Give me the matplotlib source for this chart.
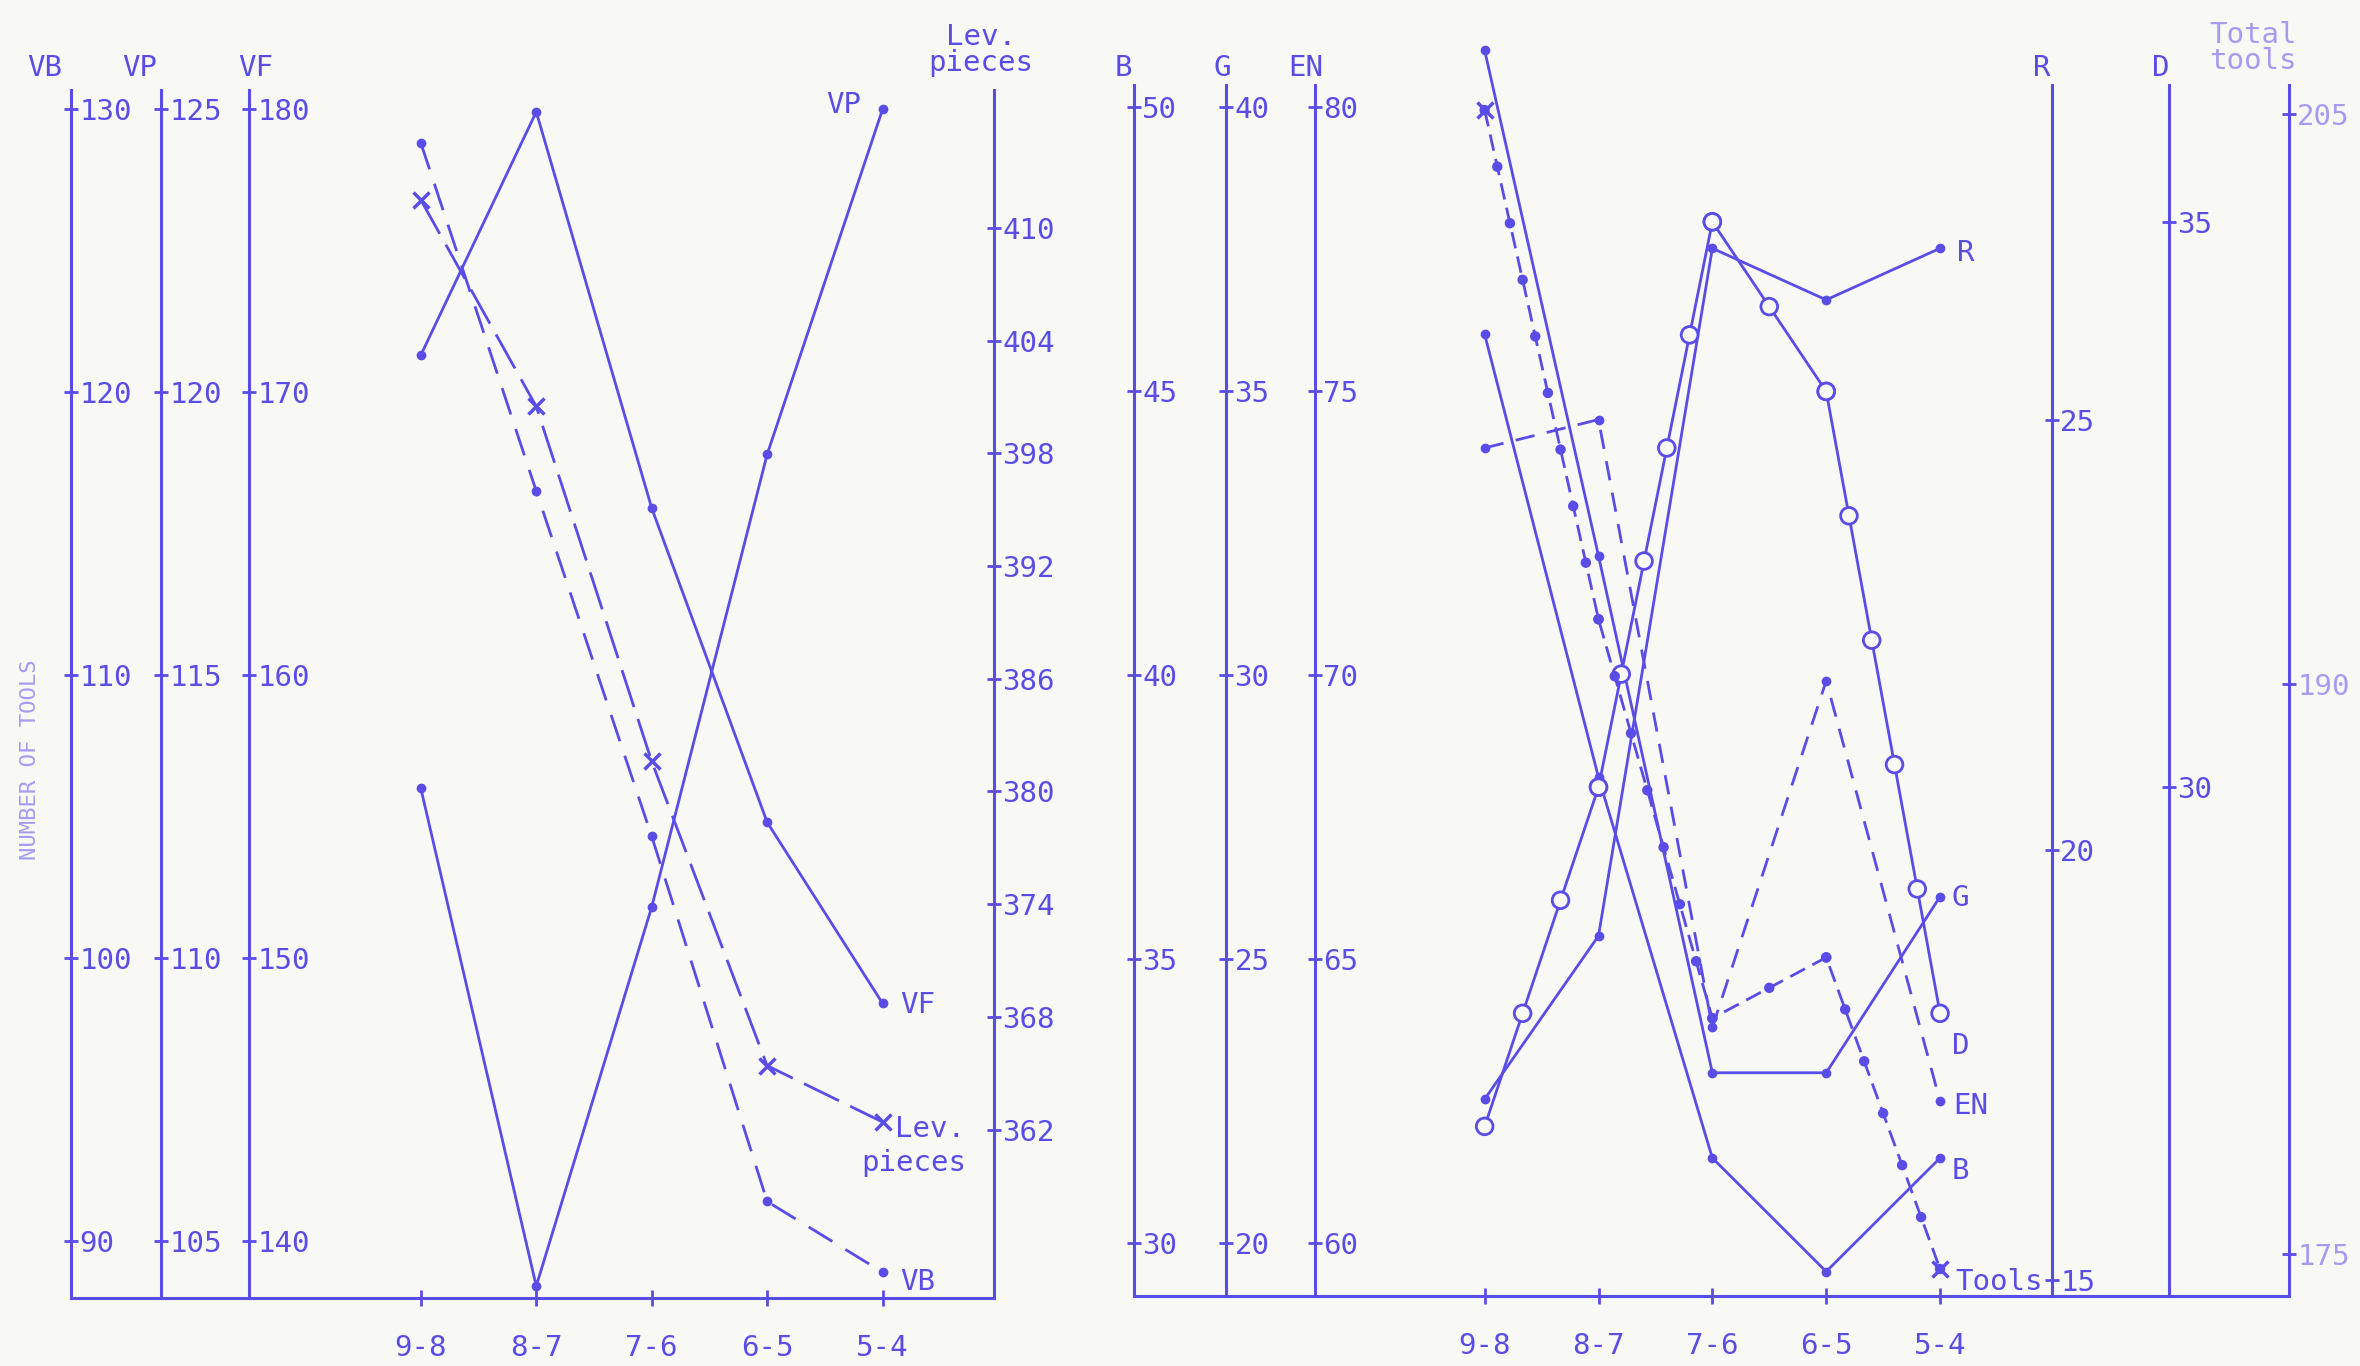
import numpy as np
import matplotlib
matplotlib.use('Agg')
import matplotlib.pyplot as plt
from matplotlib.patheffects import AbstractPathEffect
from matplotlib.path import Path
from matplotlib.transforms import Affine2D
from matplotlib.colors import to_rgba

INK = '#5a4de6'
FAINT = '#a59cf0'
BG = '#f8f8f5'
W, H = 2360, 1366

plt.rcParams['font.family'] = ['DejaVu Sans Mono']

categories = ['9-8', '8-7', '7-6', '6-5', '5-4']

# panneau gauche
vb = [128.8, 116.5, 104.3, 91.4, 88.9]
vp = [113.0, 104.2, 110.9, 118.9, 125.0]
vf = [171.3, 179.9, 165.9, 154.8, 148.4]
lev = [411.5, 400.5, 381.6, 365.4, 362.4]

vb_ticks = [90, 100, 110, 120, 130]
vp_ticks = [105, 110, 115, 120, 125]
vf_ticks = [140, 150, 160, 170, 180]
lev_ticks = [362, 368, 374, 380, 386, 392, 398, 404, 410]

# panneau droit
b = [46.0, 38.2, 31.5, 29.5, 31.5]
g = [41.0, 32.1, 23.0, 23.0, 26.1]
en = [74.0, 74.5, 63.8, 69.9, 62.5]
r = [17.1, 19.0, 27.0, 26.4, 27.0]
d = [27.0, 30.0, 35.0, 33.5, 28.0]
tools = [205.1, 191.7, 181.2, 182.8, 174.6]

b_ticks = [30, 35, 40, 45, 50]
g_ticks = [20, 25, 30, 35, 40]
en_ticks = [60, 65, 70, 75, 80]
r_ticks = [15, 20, 25]
d_ticks = [30, 35]
tools_ticks = [175, 190, 205]

idx = np.arange(len(categories))


class Beads(AbstractPathEffect):
    # petits ronds le long du trait, comme le style de ligne du traceur
    def __init__(self, spacing, size, face):
        super().__init__()
        self.spacing = spacing
        self.size = size
        self.face = to_rgba(face)

    def draw_path(self, renderer, gc, tpath, affine, rgbFace=None):
        renderer.draw_path(gc, tpath, affine, rgbFace)
        pts = affine.transform(tpath.vertices)
        step = renderer.points_to_pixels(self.spacing)
        rad = renderer.points_to_pixels(self.size) / 2
        gc0 = renderer.new_gc()
        gc0.copy_properties(gc)
        gc0.set_dashes(0, None)
        for p0, p1 in zip(pts[:-1], pts[1:]):
            n = max(1, int(round(np.hypot(*(p1 - p0)) / step)))
            for t in np.arange(n + 1) / n:
                xy = p0 + (p1 - p0) * t
                renderer.draw_path(gc0, Path.circle(xy, rad), Affine2D(),
                                   self.face)
        gc0.restore()


fig = plt.figure(figsize=(W / 100, H / 100), dpi=100, facecolor=BG)


def px_rect(l, rr, bot, top):
    return [l / W, 1 - bot / H, (rr - l) / W, (bot - top) / H]


def ftxt(xp, yp, s, **kw):
    kw.setdefault('color', INK)
    kw.setdefault('fontsize', 21)
    kw.setdefault('va', 'center')
    fig.text(xp / W, 1 - yp / H, s, **kw)


def base_axes(rect, xlim):
    ax = fig.add_axes(rect)
    ax.patch.set_visible(False)
    ax.set_xlim(*xlim)
    ax.set_ylim(0, 1)
    ax.set_yticks([])
    for k in ['left', 'right', 'top']:
        ax.spines[k].set_visible(False)
    ax.spines['bottom'].set_color(INK)
    ax.spines['bottom'].set_linewidth(2.2)
    ax.set_xticks(idx)
    ax.set_xticklabels(categories)
    ax.tick_params(axis='x', direction='inout', length=12, width=2,
                   colors=INK, labelsize=21, pad=20)
    return ax


def scale_axis(base, frac, lim, ticks):
    a = base.twinx()
    a.patch.set_visible(False)
    for s in a.spines.values():
        s.set_visible(False)
    a.spines['right'].set_visible(True)
    a.spines['right'].set_position(('axes', frac))
    a.spines['right'].set_color(INK)
    a.spines['right'].set_linewidth(2.2)
    a.set_ylim(*lim)
    a.set_yticks(ticks)
    a.tick_params(axis='y', direction='inout', length=10, width=2,
                  colors=INK, labelsize=21, pad=1)
    return a


# ---- gauche
axl = base_axes(px_rect(71, 994, 1298, 90), (-3.03, 4.965))
a_vb = scale_axis(axl, 0.0, (87.99, 130.67), vb_ticks)
a_vp = scale_axis(axl, 0.0975, (103.99, 125.34), vp_ticks)
a_vf = scale_axis(axl, 0.1929, (137.99, 180.67), vf_ticks)
a_lev = scale_axis(axl, 1.0, (353.03, 417.35), lev_ticks)

dot = dict(marker='o', ms=6, color=INK, lw=2, clip_on=False)
a_vf.plot(idx, vf, **dot)
a_vp.plot(idx, vp, **dot)
a_vb.plot(idx, vb, ls=(0, (10, 5.5)), **dot)
a_lev.plot(idx, lev, color=INK, lw=2, ls=(0, (14, 4.5)), marker='x',
           ms=11, mew=2.5, clip_on=False)

ftxt(45, 68, 'VB', ha='center')
ftxt(140, 68, 'VP', ha='center')
ftxt(256, 68, 'VF', ha='center')
ftxt(981, 50, 'Lev.\npieces', ha='center', linespacing=0.9)
ftxt(826, 105, 'VP', ha='left')
ftxt(900, 1005, 'VF', ha='left')
ftxt(895, 1129, 'Lev.', ha='left')
ftxt(861, 1163, 'pieces', ha='left')
ftxt(900, 1282, 'VB', ha='left')
ftxt(30, 760, 'NUMBER OF TOOLS', ha='center', rotation=90, fontsize=16,
     color=FAINT)

# ---- droite
axr = base_axes(px_rect(1134, 2289, 1296, 85), (-3.08, 7.065))
a_b = scale_axis(axr, 0.0, (29.07, 50.39), b_ticks)
a_g = scale_axis(axr, 0.0797, (19.07, 40.39), g_ticks)
a_en = scale_axis(axr, 0.1567, (59.07, 80.39), en_ticks)
a_r = scale_axis(axr, 0.7948, (14.81, 28.90), r_ticks)
a_d = scale_axis(axr, 0.8961, (25.50, 36.21), d_ticks)
a_t = scale_axis(axr, 1.0, (173.89, 205.76), tools_ticks)
for lab in a_t.get_yticklabels():
    lab.set_color(FAINT)

a_r.plot(idx, r, **dot)
a_g.plot(idx, g, **dot)
a_b.plot(idx, b, **dot)
a_en.plot(idx, en, ls=(0, (7, 4.5)), **dot)

a_d.plot(idx, d, color=INK, lw=2, clip_on=False,
         path_effects=[Beads(spacing=85, size=12, face=BG)])
a_t.plot(idx, tools, color=INK, lw=2, ls=(0, (6, 3)), clip_on=False,
         path_effects=[Beads(spacing=41, size=5.5, face=INK)])
a_t.plot(idx[[0, -1]], [tools[0], tools[-1]], ls='none', marker='x',
         ms=12, mew=2.5, color=INK, clip_on=False)

ftxt(1123, 68, 'B', ha='center')
ftxt(1222, 68, 'G', ha='center')
ftxt(1306, 68, 'EN', ha='center')
ftxt(2042, 68, 'R', ha='center')
ftxt(2161, 68, 'D', ha='center')
ftxt(2253, 48, 'Total\ntools', ha='center', color=FAINT, linespacing=0.9)
ftxt(1957, 253, 'R', ha='left')
ftxt(1952, 898, 'G', ha='left')
ftxt(1952, 1046, 'D', ha='left')
ftxt(1953, 1106, 'EN', ha='left')
ftxt(1952, 1171, 'B', ha='left')
ftxt(1955, 1282, 'Tools', ha='left')

fig.savefig('out.png', dpi=100, facecolor=BG)
